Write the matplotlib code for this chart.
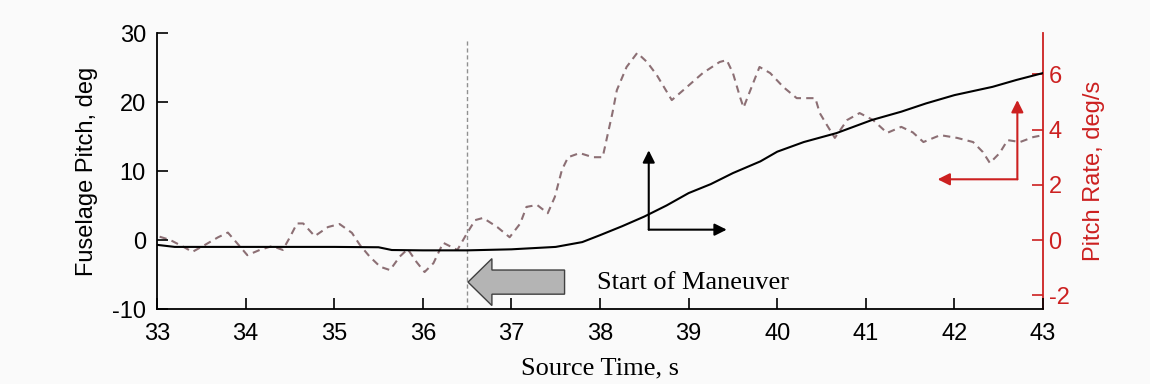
import numpy as np
import matplotlib.pyplot as plt
from matplotlib.patches import FancyArrow

# fuselage pitch (deg), left axis
pitch_t = [33.0, 33.2, 34.0, 35.0, 35.5, 35.65, 36.0, 36.5, 37.0, 37.5, 37.8, 38.0,
           38.25, 38.5, 38.75, 39.0, 39.25, 39.5, 39.81, 40.0, 40.3, 40.67, 41.07,
           41.4, 41.68, 42.0, 42.43, 42.7, 42.97, 43.0]
pitch_deg = [-0.7, -1.0, -1.0, -1.0, -1.05, -1.45, -1.5, -1.5, -1.35, -1.0, -0.3, 0.7,
             2.0, 3.4, 5.0, 6.8, 8.1, 9.7, 11.4, 12.8, 14.2, 15.5, 17.4,
             18.6, 19.8, 21.0, 22.2, 23.2, 24.1, 24.2]

# pitch rate (deg/s), right axis
rate_t = [33.03, 33.15, 33.3, 33.4, 33.54, 33.69, 33.8, 33.9, 34.02, 34.16, 34.3,
          34.42, 34.5, 34.58, 34.65, 34.78, 34.93, 35.06, 35.2, 35.29, 35.4, 35.52,
          35.63, 35.74, 35.83, 35.93, 36.02, 36.12, 36.23, 36.39, 36.5, 36.59,
          36.68, 36.84, 36.98, 37.1, 37.17, 37.29, 37.41, 37.49, 37.57, 37.64,
          37.77, 37.92, 38.03, 38.08, 38.14, 38.19, 38.3, 38.42, 38.53, 38.64,
          38.81, 38.94, 39.16, 39.35, 39.43, 39.5, 39.58, 39.62, 39.73, 39.8,
          39.92, 40.07, 40.22, 40.43, 40.48, 40.56, 40.65, 40.79, 40.93, 41.08,
          41.24, 41.4, 41.53, 41.65, 41.84, 42.03, 42.21, 42.32, 42.4, 42.51,
          42.6, 42.74, 42.89, 43.0]
rate_dps = [0.12, 0.0, -0.25, -0.43, -0.18, 0.1, 0.27, -0.1, -0.55, -0.36, -0.22,
            -0.36, 0.1, 0.6, 0.6, 0.14, 0.47, 0.58, 0.26, -0.18, -0.6, -0.97,
            -1.09, -0.6, -0.33, -0.8, -1.16, -0.84, -0.1, -0.36, 0.25, 0.72,
            0.8, 0.47, 0.1, 0.6, 1.2, 1.27, 0.97, 1.56, 2.54, 3.0,
            3.15, 3.0, 3.0, 3.73, 4.6, 5.43, 6.27, 6.78, 6.45, 5.98,
            5.07, 5.43, 6.05, 6.45, 6.52, 6.05, 5.18, 4.8, 5.7, 6.27,
            6.05, 5.54, 5.14, 5.14, 4.6, 4.17, 3.7, 4.35, 4.6, 4.35,
            3.88, 4.1, 3.9, 3.55, 3.8, 3.7, 3.55, 3.19, 2.79, 3.15,
            3.62, 3.55, 3.73, 3.8]

x_ticks = [33, 34, 35, 36, 37, 38, 39, 40, 41, 42, 43]
left_ticks = [-10, 0, 10, 20, 30]
right_ticks = [-2, 0, 2, 4, 6]

maneuver_start = 36.5
label_text = "Start of Maneuver"

rate_col = '#8c6f74'
red = '#cc2020'
bg = '#fafafa'

fig = plt.figure(figsize=(11.5, 3.84), dpi=100, facecolor=bg)
ax = fig.add_axes([0.1365, 0.1953, 0.7705, 0.7187])
ax.set_facecolor(bg)
ax2 = ax.twinx()

# pitch rate trace and event marker
ax2.plot(rate_t, rate_dps, color=rate_col, lw=1.5, ls=(0, (3.5, 2.5)), zorder=2)
ax.axvline(maneuver_start, ymin=0, ymax=0.975, color='#909090', lw=1.0,
           ls=(0, (3, 2)), zorder=1)
ax.plot(pitch_t, pitch_deg, color='black', lw=1.5, zorder=3)
ax.set_zorder(ax2.get_zorder() + 1)
ax.patch.set_visible(False)
ax2.patch.set_visible(True)
ax2.patch.set_facecolor(bg)

ax.set_xlim(33, 43)
ax.set_ylim(-10, 30)
ax2.set_ylim(-2.5, 7.5)
ax.set_xticks(x_ticks)
ax.set_yticks(left_ticks)
ax2.set_yticks(right_ticks)

tick_font = dict(family='Liberation Sans', size=17)
ax.set_xticklabels([str(v) for v in x_ticks], fontdict=tick_font)
ax.set_yticklabels([str(v) for v in left_ticks], fontdict=tick_font)
ax2.set_yticklabels([str(v) for v in right_ticks], fontdict=tick_font, color=red)

ax.tick_params(axis='both', direction='in', length=8, width=1.2, pad=8)
ax.tick_params(axis='x', pad=10)
ax2.tick_params(axis='y', direction='in', length=8, width=1.2, pad=4, colors=red)

for s in ['top', 'right']:
    ax.spines[s].set_visible(False)
for s in ['top', 'left', 'bottom']:
    ax2.spines[s].set_visible(False)
ax.spines['left'].set_linewidth(1.3)
ax.spines['bottom'].set_linewidth(1.3)
ax2.spines['right'].set_color(red)
ax2.spines['right'].set_linewidth(1.3)

ax.set_xlabel('Source Time, s', family='Liberation Serif', size=19, labelpad=9)
ax.set_ylabel('Fuselage Pitch, deg', family='Liberation Sans', size=17, labelpad=10)
ax2.set_ylabel('Pitch Rate, deg/s', family='Liberation Sans', size=17,
               color=red, labelpad=10)

# block arrow pointing back at the event line
ax.add_patch(FancyArrow(37.6, -6.1, -1.09, 0, width=3.5, head_width=6.8,
                        head_length=0.27, length_includes_head=True,
                        facecolor='#b4b4b4', edgecolor='#404040', lw=1.0, zorder=4))
ax.text(37.97, -6.3, label_text, family='Liberation Serif', size=19,
        va='center', ha='left')

# axis direction hints: black -> left axis, red -> right axis
ax.annotate('', xy=(38.55, 13.0), xytext=(38.55, 1.5),
            arrowprops=dict(arrowstyle='-|>', color='black', lw=1.5,
                            mutation_scale=18, shrinkA=0, shrinkB=0))
ax.annotate('', xy=(39.43, 1.5), xytext=(38.55, 1.5),
            arrowprops=dict(arrowstyle='-|>', color='black', lw=1.5,
                            mutation_scale=18, shrinkA=0, shrinkB=0))
ax2.annotate('', xy=(42.71, 5.07), xytext=(42.71, 2.2),
             arrowprops=dict(arrowstyle='-|>', color=red, lw=1.5,
                             mutation_scale=18, shrinkA=0, shrinkB=0))
ax2.annotate('', xy=(41.81, 2.2), xytext=(42.71, 2.2),
             arrowprops=dict(arrowstyle='-|>', color=red, lw=1.5,
                             mutation_scale=18, shrinkA=0, shrinkB=0))

fig.savefig('out.png', dpi=100, facecolor=bg)
